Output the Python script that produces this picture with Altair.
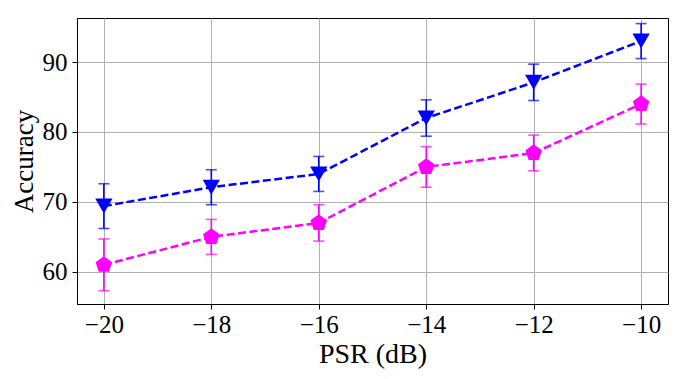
import altair as alt
import pandas as pd

psr = [-20, -18, -16, -14, -12, -10]
blue_acc = [69.4, 72.1, 74.0, 82.0, 87.1, 93.0]
blue_err = [3.2, 2.5, 2.5, 2.6, 2.6, 2.5]
mag_acc = [61.0, 65.0, 67.0, 75.0, 77.0, 84.0]
mag_err = [3.7, 2.5, 2.6, 2.9, 2.55, 2.85]
series_names = ["A", "B"]
series_colors = ["#0000ff", "#ff00ff"]
pentagon = "M0,-1L0.951,-0.309L0.588,0.809L-0.588,0.809L-0.951,-0.309Z"
series_shapes = ["triangle-down", pentagon]

rows = []
for name, acc, err in [("A", blue_acc, blue_err), ("B", mag_acc, mag_err)]:
    for x, y, e in zip(psr, acc, err):
        rows.append({"series": name, "psr": x, "acc": y, "lo": y - e, "hi": y + e})
df = pd.DataFrame(rows)

font = "Liberation Serif"
xscale = alt.Scale(domain=[-20.5, -9.5], nice=False, zero=False)
yscale = alt.Scale(domain=[55.4, 96.3], nice=False, zero=False)
color = alt.Color("series:N", scale=alt.Scale(domain=series_names, range=series_colors), legend=None)

xaxis = alt.Axis(values=psr, title="PSR (dB)", labelExpr="replace(format(datum.value, 'd'), '-', '−')",
                 labelFont=font, labelFontSize=25, titleFont=font, titleFontSize=28,
                 titleFontWeight="normal", labelColor="black", titleColor="black",
                 grid=True, gridColor="#b0b0b0", gridWidth=1, tickColor="black", tickSize=5,
                 domainColor="black", labelPadding=3, titlePadding=3)
yaxis = alt.Axis(values=[60, 70, 80, 90], title="Accuracy",
                 labelFont=font, labelFontSize=25, titleFont=font, titleFontSize=27,
                 titleFontWeight="normal", labelColor="black", titleColor="black",
                 grid=True, gridColor="#b0b0b0", gridWidth=1, tickColor="black", tickSize=5,
                 domainColor="black", labelPadding=5, titlePadding=4)

base = alt.Chart(df)
line = base.mark_line(strokeDash=[8, 3.5], strokeWidth=2.5).encode(
    x=alt.X("psr:Q", scale=xscale, axis=xaxis),
    y=alt.Y("acc:Q", scale=yscale, axis=yaxis),
    color=color,
    detail="series:N",
)
err = base.mark_errorbar(ticks={"size": 11, "thickness": 1.6}, rule={"strokeWidth": 1.6}).encode(
    x=alt.X("psr:Q", scale=xscale),
    y=alt.Y("lo:Q", scale=yscale, title="Accuracy"),
    y2="hi:Q",
    color=color,
)
pts = base.mark_point(filled=True, opacity=1, size=300).encode(
    x=alt.X("psr:Q", scale=xscale),
    y=alt.Y("acc:Q", scale=yscale),
    color=color,
    shape=alt.Shape("series:N", scale=alt.Scale(domain=series_names, range=series_shapes), legend=None),
)

chart = alt.layer(line, err, pts).properties(
    width=591, height=286,
    autosize=alt.AutoSizeParams(type="none"),
    padding={"left": 69, "top": 10, "right": 5, "bottom": 74},
).configure_view(stroke="black", strokeWidth=1)

chart.save("out.html", embed_options={"renderer": "svg", "actions": False})
